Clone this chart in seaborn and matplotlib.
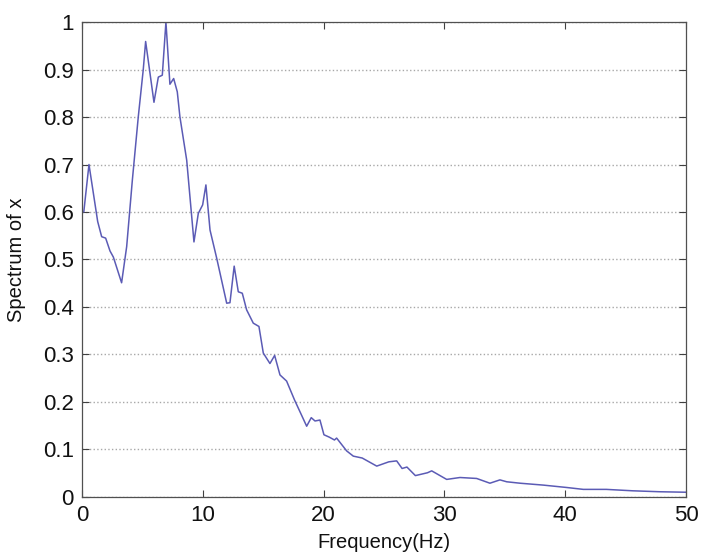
import pandas as pd
import seaborn as sns
import matplotlib
matplotlib.use('Agg')
import matplotlib.pyplot as plt

# Spectrum values
freq = [0.15, 0.58, 1.3, 1.63, 1.96, 2.32, 2.6, 3.28, 3.7, 4.17, 4.66, 5.07, 5.27,
        5.96, 6.32, 6.65, 6.95, 7.28, 7.59, 7.89, 8.11, 8.67, 9.27, 9.63, 9.99,
        10.26, 10.6, 11.15, 11.98, 12.25, 12.6, 12.94, 13.27, 13.63, 14.18, 14.65,
        15.01, 15.56, 15.95, 16.39, 16.94, 17.6, 18.6, 18.98, 19.29, 19.7, 20.03,
        20.47, 20.9, 21.08, 21.91, 22.46, 23.2, 24.4, 25.4, 26.05, 26.5, 26.9,
        27.6, 28.6, 28.95, 30.19, 31.29, 32.67, 33.77, 34.6, 35.16, 36.26, 38.19,
        40.12, 41.5, 43.4, 45.6, 47.85, 50.0]
spectrum = [0.60, 0.70, 0.58, 0.548, 0.545, 0.518, 0.505, 0.451, 0.527, 0.667, 0.80,
            0.899, 0.959, 0.831, 0.884, 0.888, 1.0, 0.869, 0.881, 0.853, 0.80, 0.709,
            0.537, 0.597, 0.615, 0.657, 0.562, 0.503, 0.408, 0.409, 0.486, 0.432,
            0.429, 0.394, 0.366, 0.359, 0.303, 0.281, 0.298, 0.257, 0.244, 0.204,
            0.149, 0.167, 0.16, 0.162, 0.131, 0.126, 0.12, 0.124, 0.097, 0.086,
            0.082, 0.065, 0.074, 0.076, 0.06, 0.063, 0.045, 0.051, 0.055, 0.037,
            0.041, 0.039, 0.029, 0.036, 0.032, 0.029, 0.025, 0.02, 0.016, 0.016,
            0.013, 0.011, 0.01]
x_ticks = [0, 10, 20, 30, 40, 50]
y_ticks = [0, 0.1, 0.2, 0.3, 0.4, 0.5, 0.6, 0.7, 0.8, 0.9, 1]
y_tick_labels = ['0', '0.1', '0.2', '0.3', '0.4', '0.5', '0.6', '0.7', '0.8', '0.9', '1']

df = pd.DataFrame({'Frequency(Hz)': freq, 'Spectrum of x': spectrum})

sns.set_style('ticks')
plt.rcParams['font.family'] = ['Liberation Sans', 'DejaVu Sans']

fig = plt.figure(figsize=(7.03, 5.53), dpi=100)
ax = fig.add_axes([0.1166, 0.1013, 0.8592, 0.8589])

sns.lineplot(data=df, x='Frequency(Hz)', y='Spectrum of x', ax=ax,
             color='#5b5bb5', linewidth=1.1, sort=False)

ax.set_xlim(0, 50)
ax.set_ylim(0, 1)
ax.set_xticks(x_ticks)
ax.set_yticks(y_ticks)
ax.set_yticklabels(y_tick_labels)

# MATLAB-style look: dotted horizontal grid, inward ticks on every side
ax.yaxis.grid(True, linestyle=':', color='#a8a8a8', linewidth=1.0)
ax.xaxis.grid(False)
ax.tick_params(direction='in', length=5, width=0.8, color='#404040',
               top=True, right=True, labelsize=16, pad=6, labelcolor='#111111')
for s in ax.spines.values():
    s.set_visible(True)
    s.set_color('#505050')
    s.set_linewidth(0.9)

ax.set_xlabel('Frequency(Hz)', fontsize=14.5, labelpad=5, color='#111111')
ax.set_ylabel('Spectrum of x', fontsize=14.5, labelpad=12, color='#111111')

fig.savefig('out.png', dpi=100)
